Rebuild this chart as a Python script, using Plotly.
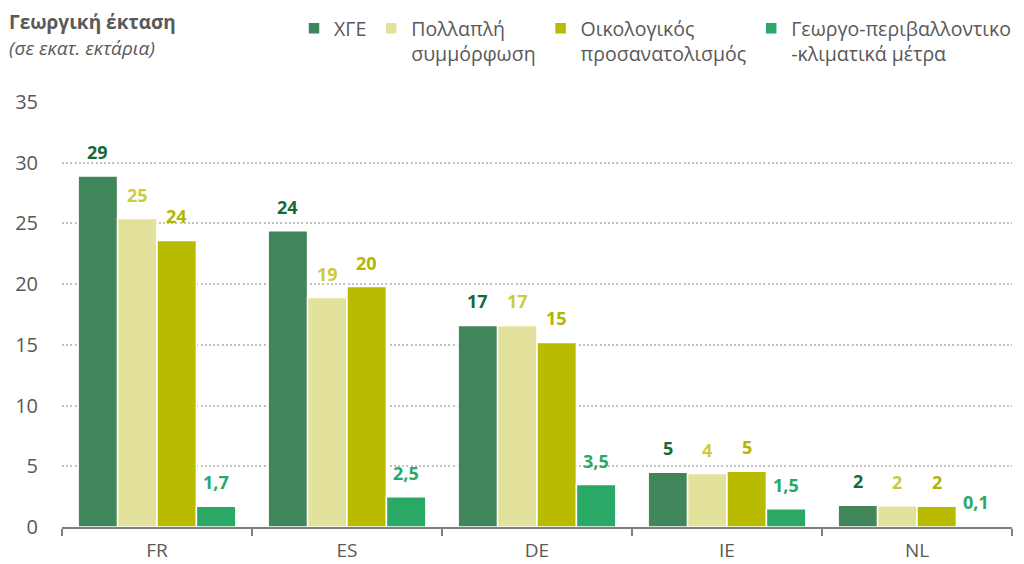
import plotly.graph_objects as go

countries = ["FR", "ES", "DE", "IE", "NL"]
series_names = ["ΧΓΕ", "Πολλαπλή<br>συμμόρφωση", "Οικολογικός<br>προσανατολισμός", "Γεωργο-περιβαλλοντικο<br>-κλιματικά μέτρα"]
hge = [28.9, 24.4, 16.6, 4.5, 1.8]
cross_compliance = [25.4, 18.9, 16.6, 4.4, 1.75]
greening = [23.6, 19.8, 15.2, 4.6, 1.7]
agri_env = [1.7, 2.5, 3.5, 1.5, 0.1]
hge_lbl = ["29", "24", "17", "5", "2"]
cc_lbl = ["25", "19", "17", "4", "2"]
gr_lbl = ["24", "20", "15", "5", "2"]
ae_lbl = ["1,7", "2,5", "3,5", "1,5", "0,1"]
y_ticks = [0, 5, 10, 15, 20, 25, 30, 35]

bar_colors = ["#41855a", "#e2e29c", "#b8bb00", "#2aa866"]
label_colors = ["#16693a", "#cccc3a", "#b3b600", "#2aa866"]
values = [hge, cross_compliance, greening, agri_env]
labels = [hge_lbl, cc_lbl, gr_lbl, ae_lbl]

FONT = "Open Sans"
W, H = 1024, 564
ML, MR, MT, MB = 62, 12, 102, 37
PW, PH = W - ML - MR, H - MT - MB
BARGAP = 0.17

fig = go.Figure()
for name, vals, bc in zip(series_names, values, bar_colors):
    fig.add_trace(go.Bar(
        x=countries, y=vals, name=name,
        marker=dict(color=bc, line=dict(color="white", width=1.5)),
        hoverinfo="skip",
    ))

# value labels above each bar
cat_w = PW / len(countries)
bar_w = cat_w * (1 - BARGAP) / len(values)
annotations = []
for i, (vals, lbls, lc) in enumerate(zip(values, labels, label_colors)):
    for c, v, t in zip(countries, vals, lbls):
        annotations.append(dict(
            x=c, y=v, xref="x", yref="y", text=f"<b>{t}</b>", showarrow=False,
            xshift=(i - (len(values) - 1) / 2) * bar_w, yshift=24,
            xanchor="center", yanchor="middle",
            font=dict(size=18, color=lc, family=FONT),
        ))

def px_x(p):
    return (p - ML) / PW

def px_y(p):
    return (H - MB - p) / PH

annotations += [
    dict(text="<b>Γεωργική έκταση</b>", x=px_x(7), y=px_y(22), xref="paper", yref="paper",
         xanchor="left", yanchor="middle", showarrow=False,
         font=dict(size=19, color="#595959", family=FONT)),
    dict(text="<i>(σε εκατ. εκτάρια)</i>", x=px_x(7), y=px_y(48), xref="paper", yref="paper",
         xanchor="left", yanchor="middle", showarrow=False,
         font=dict(size=19, color="#595959", family=FONT)),
]

fig.update_layout(
    width=W, height=H,
    paper_bgcolor="white", plot_bgcolor="white",
    barmode="group", bargap=BARGAP, bargroupgap=0,
    margin=dict(l=ML, r=MR, t=MT, b=MB, autoexpand=False),
    font=dict(family=FONT, color="#595959"),
    showlegend=True,
    legend=dict(orientation="h", x=px_x(294), xanchor="left", y=px_y(9), yanchor="top",
                font=dict(size=19.5, color="#595959", family=FONT),
                traceorder="normal", valign="top", itemwidth=30, tracegroupgap=0,
                bgcolor="rgba(0,0,0,0)"),
    yaxis=dict(range=[0, 35], tickvals=y_ticks, showgrid=True, gridcolor="#c2c2c2",
               griddash="2px,2.2px", gridwidth=1.5, zeroline=False, showline=False,
               tickfont=dict(size=20, color="#595959", family=FONT), ticks="",
               ticklabelstandoff=23, automargin=False),
    xaxis=dict(showline=True, linecolor="#808080", linewidth=1.5, ticks="outside",
               tickson="boundaries", ticklen=7, tickcolor="#808080", tickwidth=1.5,
               tickfont=dict(size=19, color="#595959", family=FONT),
               ticklabelstandoff=5, automargin=False),
    annotations=annotations,
)

fig.write_html("out.html", config={"displayModeBar": False},
               post_script="document.body.style.margin='0px';")
